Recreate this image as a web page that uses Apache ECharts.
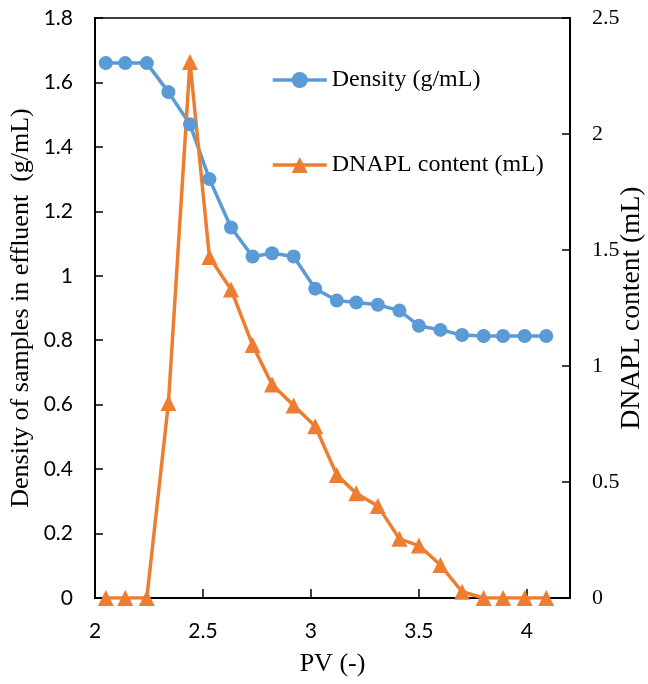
<!DOCTYPE html>
<html>
<head>
<meta charset="utf-8">
<script src="https://cdn.jsdelivr.net/npm/echarts@6/dist/echarts.min.js"></script>
<style>
html,body{margin:0;padding:0;background:#fff;}
#chart{width:648px;height:684px;}
</style>
</head>
<body>
<div id="chart"></div>
<script>
// PV values (x)
const pv = [2.05, 2.14, 2.24, 2.34, 2.44, 2.53, 2.63, 2.73, 2.82, 2.92, 3.02, 3.12, 3.21, 3.31, 3.41, 3.50, 3.60, 3.70, 3.80, 3.89, 3.99, 4.09];
// Density of samples in effluent (g/mL)
const density = [1.66, 1.66, 1.66, 1.57, 1.47, 1.30, 1.15, 1.06, 1.07, 1.06, 0.96, 0.923, 0.917, 0.91, 0.892, 0.845, 0.832, 0.816, 0.813, 0.813, 0.813, 0.813];
// DNAPL content (mL)
const dnapl = [0, 0, 0, 0.84, 2.31, 1.47, 1.33, 1.09, 0.92, 0.83, 0.74, 0.53, 0.451, 0.397, 0.255, 0.226, 0.142, 0.027, 0, 0, 0, 0];
const seriesNames = ['Density (g/mL)', 'DNAPL content (mL)'];
const axisTitles = { x: 'PV (-)', yLeft: 'Density of samples in effluent  (g/mL)', yRight: 'DNAPL content (mL)' };

const blue = '#5B9BD5';
const orange = '#ED7D31';
const serif = '"Liberation Serif", "Times New Roman", serif';
const sans = 'Lato, "Liberation Sans", sans-serif';

const chart = echarts.init(document.getElementById('chart'));
chart.setOption({
  backgroundColor: '#fff',
  animation: false,
  grid: { left: 95, right: 78, top: 18, bottom: 86, outerBoundsMode: 'none', containLabel: false, show: true, borderColor: '#000', borderWidth: 1.5, backgroundColor: 'transparent' },
  legend: {
    orient: 'vertical', left: 266, top: 63, itemWidth: 54, itemHeight: 20, itemGap: 61,
    lineStyle: { width: 'inherit' },
    textStyle: { fontFamily: serif, fontSize: 24, color: '#000' },
    data: seriesNames
  },
  xAxis: {
    type: 'value', min: 2, max: 4.2, interval: 0.5,
    name: axisTitles.x, nameLocation: 'middle', nameGap: 53, nameMoveOverlap: false,
    nameTextStyle: { fontFamily: serif, fontSize: 26, color: '#000' },
    axisLine: { show: true, onZero: false, lineStyle: { color: '#000', width: 2 } },
    axisTick: { show: true, inside: true, length: 9, lineStyle: { color: '#000', width: 1.5 } },
    axisLabel: { fontFamily: sans, fontSize: 21, color: '#000', margin: 23, showMaxLabel: false },
    splitLine: { show: false }
  },
  yAxis: [
    {
      type: 'value', min: 0, max: 1.8, interval: 0.2, position: 'left',
      name: axisTitles.yLeft, nameLocation: 'middle', nameGap: 61, nameMoveOverlap: false,
      nameTextStyle: { fontFamily: serif, fontSize: 26, color: '#000' },
      axisLine: { show: true, onZero: false, lineStyle: { color: '#000', width: 2 } },
      axisTick: { show: true, inside: true, length: 8, lineStyle: { color: '#000', width: 1.5 } },
      axisLabel: { fontFamily: sans, fontSize: 21, color: '#000', margin: 22 },
      splitLine: { show: false }
    },
    {
      type: 'value', min: 0, max: 2.5, interval: 0.5, position: 'right',
      name: axisTitles.yRight, nameLocation: 'middle', nameGap: 48, nameMoveOverlap: false,
      nameTextStyle: { fontFamily: serif, fontSize: 27.5, color: '#000' },
      axisLine: { show: true, onZero: false, lineStyle: { color: '#000', width: 2 } },
      axisTick: { show: true, inside: true, length: 8, lineStyle: { color: '#000', width: 1.5 } },
      axisLabel: { fontFamily: serif, fontSize: 22, color: '#000', margin: 22 },
      splitLine: { show: false }
    }
  ],
  series: [
    {
      name: seriesNames[0], type: 'line', yAxisIndex: 0,
      data: pv.map((x, i) => [x, density[i]]),
      symbol: 'circle', symbolSize: 14,
      lineStyle: { color: blue, width: 3.5 },
      itemStyle: { color: blue }
    },
    {
      name: seriesNames[1], type: 'line', yAxisIndex: 1,
      data: pv.map((x, i) => [x, dnapl[i]]),
      symbol: 'triangle', symbolSize: 16,
      lineStyle: { color: orange, width: 3.5 },
      itemStyle: { color: orange }
    }
  ]
});
</script>
</body>
</html>
